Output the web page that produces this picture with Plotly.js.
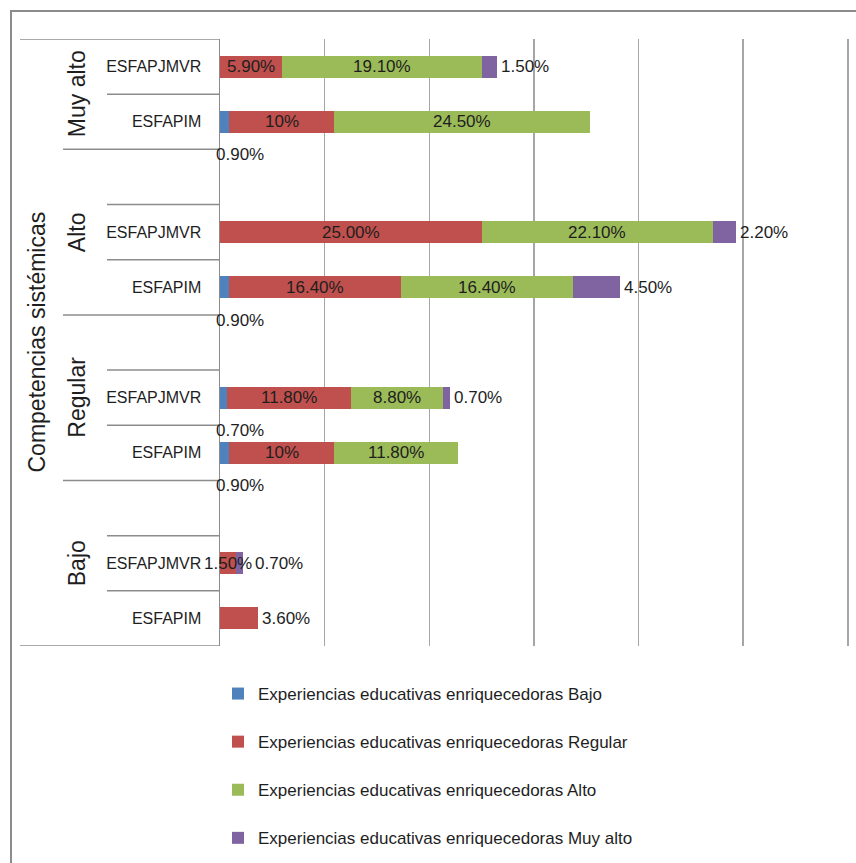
<!DOCTYPE html>
<html>
<head>
<meta charset="utf-8">
<script src="https://cdn.plot.ly/plotly-3.0.1.min.js"></script>
<style>html,body{margin:0;padding:0;background:#fff;}#chart{width:856px;height:863px;}</style>
</head>
<body>
<div id="chart"></div>
<script>
// ---- data (top to bottom) ----
const groups  = ["Muy alto","Muy alto","Alto","Alto","Alto","Regular","Regular","Regular","Bajo","Bajo","Bajo"];
const subcats = ["ESFAPJMVR","ESFAPIM","","ESFAPJMVR","ESFAPIM","","ESFAPJMVR","ESFAPIM","","ESFAPJMVR","ESFAPIM"];
const seriesNames = [
  "Experiencias educativas enriquecedoras Bajo",
  "Experiencias educativas enriquecedoras Regular",
  "Experiencias educativas enriquecedoras Alto",
  "Experiencias educativas enriquecedoras Muy alto"
];
const bajo     = [0,   0.9, null, 0,    0.9,  null, 0.7,  0.9, null, 0,   0];
const regular  = [5.9, 10,  null, 25.0, 16.4, null, 11.8, 10,  null, 1.5, 3.6];
const alto     = [19.1,24.5,null, 22.1, 16.4, null, 8.8,  11.8,null, 0,   0];
const muyAlto  = [1.5, 0,   null, 2.2,  4.5,  null, 0.7,  0,   null, 0.7, 0];
const bajoLbl    = ["", "0.90%", "", "", "0.90%", "", "0.70%", "0.90%", "", "", ""];
const regularLbl = ["5.90%","10%","","25.00%","16.40%","","11.80%","10%","","1.50%","3.60%"];
const altoLbl    = ["19.10%","24.50%","","22.10%","16.40%","","8.80%","11.80%","","",""];
const muyAltoLbl = ["1.50%","","","2.20%","4.50%","","0.70%","","","0.70%",""];
const gridVals = [0, 10, 20, 30, 40, 50, 60];
const yTitle = "Competencias sistémicas";

// ---- styles ----
const colors = ["#4F81BD","#C0504D","#9BBB59","#8064A2"];
const SANS = "Liberation Sans, Arial, sans-serif";
const txtColor = "#1e1e1e";
const gridColor = "#a6a6a6";
const PLOT_L = 220, PLOT_W = 632;
const px2paper = px => (px-PLOT_L)/PLOT_W;

const cats = groups.map((g,i)=>g+"|"+subcats[i]+"|"+i);
const values = [bajo, regular, alto, muyAlto];
const labels = [bajoLbl, regularLbl, altoLbl, muyAltoLbl];

const traces = values.map((vals,k)=>({
  type:"bar", orientation:"h",
  name: seriesNames[k], legendgroup:"g"+k,
  y: cats, x: vals,
  marker:{color:colors[k], line:{width:0}},
  width:0.4, hoverinfo:"x+name"
}));

// data labels
const annotations = [];
for (let i=0;i<cats.length;i++){
  let base = 0;
  let last = -1;
  values.forEach((v,k)=>{ if (v[i]) last = k; });
  let prevCenteredNarrow = false;
  values.forEach((v,k)=>{
    const val = v[i];
    if (!val) return;
    const txt = labels[k][i];
    if (txt){
      const a = {x:0, y:cats[i], xref:"x", yref:"y", text:txt, showarrow:false,
                 font:{family:SANS,size:17,color:txtColor}};
      if (k===0){ // Bajo: below the bar
        a.x = base; a.xanchor="left"; a.xshift=-6; a.yshift=-33;
        prevCenteredNarrow = false;
      } else if (k===3 || (k===last && val<6)){ // outside end
        a.x = base+val; a.xanchor="left"; a.xshift = prevCenteredNarrow ? 10 : 2;
      } else {
        a.x = base+val/2; a.xanchor="center";
        prevCenteredNarrow = val < 3;
      }
      annotations.push(a);
    }
    base += val;
  });
}

// group labels (rotated)
const groupNames = [...new Set(groups)];
groupNames.forEach(g=>{
  const idx = groups.map((x,i)=>x===g?i:-1).filter(i=>i>=0);
  const mid = (idx[0]+idx[idx.length-1])/2;
  annotations.push({x:px2paper(77), xref:"paper", y:mid, yref:"y", text:g, textangle:-90,
    showarrow:false, xanchor:"center", yanchor:"middle",
    font:{family:SANS,size:23,color:txtColor}});
});
// axis title (rotated)
annotations.push({x:px2paper(36), xref:"paper", y:0.5, yref:"paper", text:yTitle, textangle:-90,
  showarrow:false, xanchor:"center", yanchor:"middle",
  font:{family:SANS,size:23,color:txtColor}});

// divider lines of the category labels
const shapes = [];
const lineStyle = {color:"#8c8c8c", width:1.5};
const xFull = px2paper(20), xGroup = px2paper(63), xSub = px2paper(107);
shapes.push({type:"line", xref:"paper", yref:"y", x0:xFull, x1:0, y0:-0.5, y1:-0.5, line:lineStyle});
shapes.push({type:"line", xref:"paper", yref:"y", x0:xFull, x1:0, y0:cats.length-0.5, y1:cats.length-0.5, line:lineStyle});
for (let i=0;i<cats.length-1;i++){
  const x0 = groups[i]!==groups[i+1] ? xGroup : xSub;
  shapes.push({type:"line", xref:"paper", yref:"y", x0:x0, x1:0, y0:i+0.5, y1:i+0.5, line:lineStyle});
}
// last vertical gridline (at the right end of the scale)
const lastGrid = gridVals[gridVals.length-1];
shapes.push({type:"line", xref:"x", yref:"paper", x0:lastGrid, x1:lastGrid, y0:0, y1:1,
  line:{color:gridColor, width:1.5}, layer:"below"});
// outer chart border
shapes.push({type:"rect", xref:"paper", yref:"paper", x0:px2paper(11), x1:px2paper(880), y0:-0.4, y1:(646-11)/607,
  line:{color:"#8c8c8c", width:2}, fillcolor:"rgba(0,0,0,0)", layer:"below"});

const layout = {
  width:856, height:863,
  margin:{l:PLOT_L, r:856-PLOT_L-PLOT_W, t:39, b:217, autoexpand:false},
  paper_bgcolor:"#fff", plot_bgcolor:"#fff",
  barmode:"stack",
  showlegend:true,
  legend:{x:218/856, xref:"container", y:1-676/863, yref:"container", xanchor:"left", yanchor:"top",
    orientation:"v", traceorder:"grouped", tracegroupgap:23,
    font:{family:SANS, size:17, color:txtColor}, bgcolor:"rgba(0,0,0,0)"},
  xaxis:{range:[0,60.4], tickmode:"array", tickvals:gridVals, showgrid:true, gridcolor:gridColor, gridwidth:1.5,
    showticklabels:false, zeroline:false, showline:false, ticks:"", fixedrange:true},
  yaxis:{type:"category", categoryorder:"array", categoryarray:cats, range:[cats.length-0.5,-0.5],
    tickmode:"array", tickvals:cats, ticktext:subcats, ticks:"", ticklabelstandoff:14,
    showline:true, linecolor:"#8c8c8c", linewidth:1.5, showgrid:false, zeroline:false,
    tickfont:{family:SANS, size:16, color:txtColor},
    automargin:false, fixedrange:true},
  annotations: annotations,
  shapes: shapes
};

Plotly.newPlot("chart", traces, layout, {displayModeBar:false, staticPlot:true});
</script>
</body>
</html>
